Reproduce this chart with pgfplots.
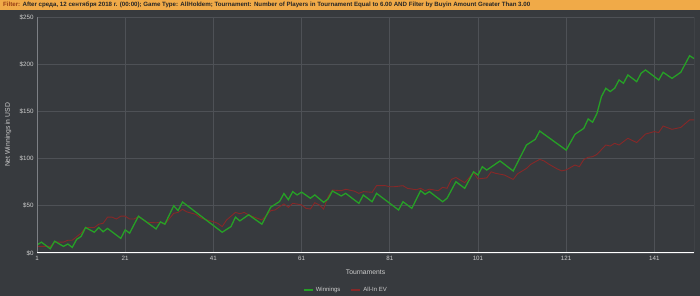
\documentclass[border=0pt]{standalone}
\usepackage{pgfplots}
\pgfplotsset{compat=1.18}
\usepackage{fontspec}
\setmainfont{Liberation Sans}
\usepackage{graphicx}
\definecolor{bg}{RGB}{55,58,62}
\definecolor{hdr}{RGB}{240,170,72}
\definecolor{gridc}{RGB}{78,81,86}
\definecolor{txt}{RGB}{205,205,205}
\definecolor{winc}{RGB}{38,160,38}
\definecolor{evc}{RGB}{135,40,40}
\definecolor{axc}{RGB}{125,128,133}
\definecolor{filt}{RGB}{150,60,20}
\begin{document}
\begin{tikzpicture}[x=1pt,y=1pt]
\useasboundingbox (0,0) rectangle (700,296);
\fill[bg] (0,0) rectangle (700,296);
\fill[hdr] (0,286) rectangle (700,296);
\node[anchor=west, inner sep=0] at (3,291) {\resizebox{527pt}{!}{\fontsize{6}{7}\selectfont\bfseries\textcolor{filt}{Filter:} \textcolor{black!85}{After среда, 12 сентября 2018 г. (00:00); Game Type: AllHoldem; Tournament: Number of Players in Tournament Equal to 6.00 AND Filter by Buyin Amount Greater Than 3.00}}};
\begin{axis}[at={(37pt,43pt)}, anchor=south west, scale only axis,
  width=657pt, height=236pt,
  xmin=1, xmax=150, ymin=0, ymax=250,
  xtick={1,21,41,61,81,101,121,141},
  xticklabels={1,21,41,61,81,101,121,141},
  ytick={0,50,100,150,200,250},
  yticklabels={\$0,\$50,\$100,\$150,\$200,\$250},
  major tick length=0pt,
  grid=major, grid style={gridc, line width=0.6pt},
  axis line style={draw=none},
  ticklabel style={font=\fontsize{6.2}{7}\selectfont, text=txt},
  xlabel={Tournaments}, ylabel={Net Winnings in USD},
  label style={font=\fontsize{6.8}{7.5}\selectfont, text=txt},
  xlabel style={at={(axis description cs:0.5,-0.08)}, anchor=center},
  ylabel style={at={(axis description cs:-0.044,0.5)}, anchor=center},
  legend style={at={(0.47,-0.157)}, anchor=center, draw=none, fill=none,
    legend columns=2, font=\fontsize{6}{7}\selectfont, text=txt,
    /tikz/every even column/.append style={column sep=8pt}},
  legend image code/.code={\draw[#1, line width=2pt] (0pt,0pt) -- (9pt,0pt);},
]
\addlegendimage{winc}\addlegendentry{Winnings}
\addlegendimage{evc}\addlegendentry{All-In EV}
\addplot[evc, line width=0.9pt, forget plot] coordinates {
(1,7)(4,7)(5,11.5)(7,11.5)(8,13.5)(9,13.5)(11,21)(12,27)(14,27)(15,30.5)(16,31.5)(17,38)(18,38)(19,36)(20,39)(21,39)(22,36)(23,36)(24,38.5)(26,32.5)(28,32)(29,32.5)(30,30.5)(32,42)(33,43)(34,46.3)(35,43.5)(37,41)(38,37.5)(39,35.7)(41,33.2)(42,31.4)(43,28)(44,35)(46,43)(47,41.6)(48,43)(49,40.3)(50,38.5)(52,35)(54,44.8)(55,45.6)(56,49)(57,52)(58,48.4)(59,52.6)(61,51)(62,47.3)(63,46.6)(64,53.3)(65,51)(66,46.6)(67,59.6)(68,66.7)(70,66)(71,67.5)(73,65.5)(74,63.2)(75,65)(77,64.3)(78,71.3)(80,71.3)(81,70.2)(82,70.2)(84,71.3)(85,68.5)(87,67)(88,68.5)(89,66)(90,67.6)(92,66)(93,69.6)(94,68.5)(95,78)(96,80)(98,74.5)(100,85)(101,78.4)(103,79.6)(104,86)(105,84.4)(107,82.6)(109,78)(110,84)(112,89.6)(113,94)(115,99.2)(116,97.5)(117,94.3)(119,89)(120,87)(121,88)(123,93.2)(124,91.5)(125,99)(126,101.4)(127,102)(128,104.5)(130,114.4)(131,113.3)(132,116.2)(133,114.4)(135,121.5)(137,117)(139,126)(141,128.6)(142,127.6)(143,134.5)(145,131)(147,133)(149,141)(150,141)
};
\addplot[winc, line width=1.3pt, forget plot] coordinates {
(1,8.5)(2,11.5)(4,4.5)(5,12.5)(7,7)(8,9.5)(9,6)(10,14.5)(11,17.5)(12,27)(14,22)(15,27)(16,22.5)(17,26)(20,15.5)(21,24.5)(22,21)(24,39)(28,25.5)(29,33)(30,30.5)(32,50)(33,45)(34,54)(43,22)(45,28)(46,38)(47,34)(49,40.5)(52,30.5)(54,48.5)(56,54.5)(57,63)(58,56.5)(59,65)(60,61.5)(61,64.5)(63,58)(64,61.5)(66,53.7)(67,57.2)(68,65.7)(70,60.4)(71,63.2)(74,52.6)(75,61.4)(77,54.3)(78,63.2)(83,45.6)(84,54.3)(86,47.3)(88,66)(89,62.2)(90,65)(93,54.3)(94,58)(96,75.5)(98,68.5)(100,86)(101,82.6)(102,91.4)(103,87.9)(106,97.5)(109,86.9)(112,114.4)(114,120.4)(115,129.2)(121,109)(123,125.7)(125,132)(126,142)(127,138.5)(128,148)(129,165.6)(130,174.5)(131,171)(132,174.5)(133,183.3)(134,179.8)(135,188.6)(137,181.5)(138,190.4)(139,193.9)(142,183.3)(143,191.4)(145,185)(147,191.4)(149,209)(150,206)
};
\draw[axc, line width=0.8pt] (axis cs:1,0) -- (axis cs:1,250);
\draw[axc, line width=0.8pt] (axis cs:150,0) -- (axis cs:150,250);
\draw[white, line width=1.5pt] (axis cs:1,0) -- (axis cs:150,0);
\end{axis}
\end{tikzpicture}
\end{document}
